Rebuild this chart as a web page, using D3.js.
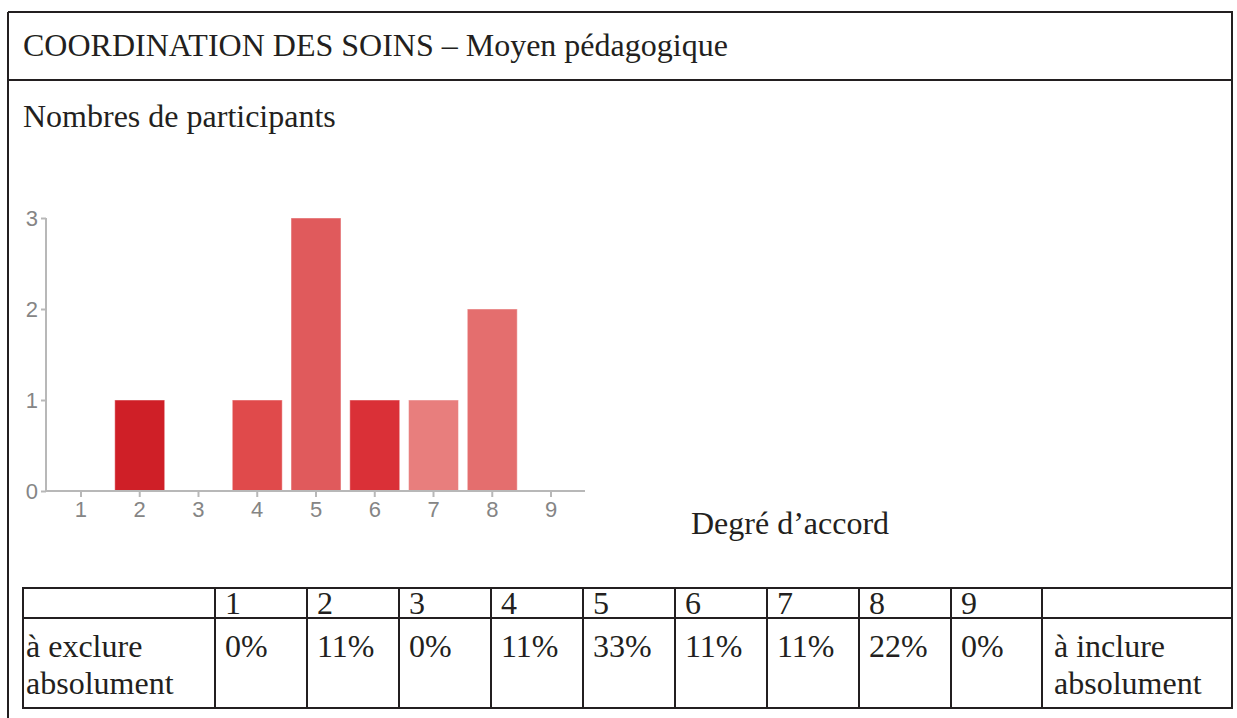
<!DOCTYPE html>
<html>
<head>
<meta charset="utf-8">
<script src="https://cdn.jsdelivr.net/npm/d3@7"></script>
<style>
	body { margin:0; background:#fff; }
	svg text { font-family:"Liberation Serif","Times New Roman",serif; fill:#231f20; }
	g.axis text { font-family:"Liberation Sans",Arial,sans-serif; fill:#858585; font-size:22px; }
</style>
</head>
<body>
<script>
// chart data
const categories = ['1','2','3','4','5','6','7','8','9'];
const counts = [0,1,0,1,3,1,1,2,0];
const barColors = ['#cf1f27','#cf1f27','#e04a4b','#e04a4b','#e05a5c','#da3037','#e87e7d','#e46e6e','#e46e6e'];
const yTicks = [0,1,2,3];
// table data
const percents = ['0%','11%','0%','11%','33%','11%','11%','22%','0%'];
const leftLabel = ['à exclure','absolument'];
const rightLabel = ['à inclure','absolument'];

const title = 'COORDINATION DES SOINS \u2013 Moyen pédagogique';
const subtitle = 'Nombres de participants';
const xTitle = 'Degré d\u2019accord';

const width = 1237, height = 718;
const svg = d3.select('body').append('svg').attr('width',width).attr('height',height);

// outer frame
const frame = svg.append('g').attr('stroke','#231f20').attr('stroke-width',2);
frame.append('line').attr('x1',8).attr('x2',8).attr('y1',12).attr('y2',718);
frame.append('line').attr('x1',8).attr('x2',1233).attr('y1',12).attr('y2',12);
frame.append('line').attr('x1',8).attr('x2',1233).attr('y1',80).attr('y2',80);
frame.append('line').attr('x1',1232).attr('x2',1232).attr('y1',12).attr('y2',709);

svg.append('text').attr('x',23).attr('y',56).attr('font-size',32).text(title);
svg.append('text').attr('x',23).attr('y',127).attr('font-size',32).text(subtitle);
svg.append('text').attr('x',691).attr('y',534).attr('font-size',32).text(xTitle);

// bar chart
const x = d3.scaleBand().domain(categories).range([51.6,580.4])
	.paddingInner(0.15).paddingOuter(0.075);
const y = d3.scaleLinear().domain([0,3]).range([491,218]);

const chart = svg.append('g');
chart.selectAll('rect').data(counts).enter().append('rect')
	.attr('x',(d,i)=>x(categories[i]))
	.attr('width',x.bandwidth())
	.attr('y',d=>y(d))
	.attr('height',d=>y(0)-y(d))
	.attr('fill',(d,i)=>barColors[i])
	.attr('stroke','#ffffff').attr('stroke-opacity',0.45).attr('stroke-width',1)
	.style('display',d=>d>0?null:'none');

const yAxis = chart.append('g').attr('class','axis').attr('transform','translate(46,0)')
	.call(d3.axisLeft(y).tickValues(yTicks).tickFormat(d3.format('d')).tickSize(5).tickPadding(3));
const xAxis = chart.append('g').attr('class','axis').attr('transform','translate(0,491)')
	.call(d3.axisBottom(x).tickSize(6).tickPadding(4));
xAxis.select('.domain').attr('d','M46,0H585');
yAxis.select('.domain').attr('d','M0,'+y(3)+'V'+y(0));
chart.selectAll('.axis').attr('font-size',null).attr('font-family',null);
chart.selectAll('.axis path, .axis line').attr('stroke','#b8b8b8').attr('stroke-width',2);

// table
const colX = [23,215,307,399,491,583,675,767,859,951,1042,1232];
const rowY = [588,618,708];
const table = svg.append('g');
table.selectAll('line.v').data(colX).enter().append('line').attr('class','v')
	.attr('x1',d=>d).attr('x2',d=>d).attr('y1',rowY[0]-1).attr('y2',rowY[2]+1)
	.attr('stroke','#231f20').attr('stroke-width',2);
table.selectAll('line.h').data(rowY).enter().append('line').attr('class','h')
	.attr('x1',colX[0]).attr('x2',colX[colX.length-1]).attr('y1',d=>d).attr('y2',d=>d)
	.attr('stroke','#231f20').attr('stroke-width',2);

table.selectAll('text.head').data(categories).enter().append('text').attr('class','head')
	.attr('x',(d,i)=>colX[i+1]+10).attr('y',614).attr('font-size',32).text(d=>d);
table.selectAll('text.pct').data(percents).enter().append('text').attr('class','pct')
	.attr('x',(d,i)=>colX[i+1]+10).attr('y',657).attr('font-size',32).text(d=>d);
table.selectAll('text.left').data(leftLabel).enter().append('text').attr('class','left')
	.attr('x',26).attr('y',(d,i)=>657+i*37).attr('font-size',32).text(d=>d);
table.selectAll('text.right').data(rightLabel).enter().append('text').attr('class','right')
	.attr('x',colX[10]+12).attr('y',(d,i)=>657+i*37).attr('font-size',32).text(d=>d);
</script>
</body>
</html>
